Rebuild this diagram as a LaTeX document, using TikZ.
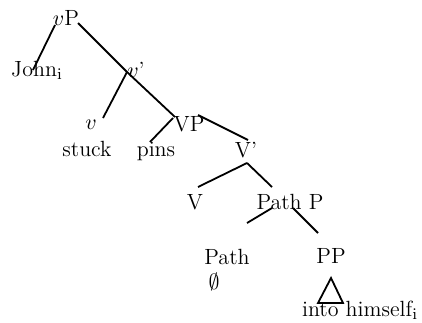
\documentclass[tikz,border=0pt]{standalone}
\usepackage{amssymb}
\tikzset{
  lbl/.style={inner sep=0pt, anchor=base, font=\fontsize{11}{13}\selectfont},
  edge/.style={line width=0.9pt},
}
\begin{document}
\begin{tikzpicture}[x=0.5pt,y=-0.5pt]
\useasboundingbox (0,0) rectangle (422,322);
% nodes
\node[lbl] (vP) at (66,25) {$v$P};
\node[lbl] (john) at (37,76) {John$_{\mathrm{i}}$};
\node[lbl] (vbar) at (136,77) {$v$'};
\node[lbl] (v) at (91,129) {$v$};
\node[lbl] (stuck) at (87,156) {stuck};
\node[lbl] (pins) at (156,156) {pins};
\node[lbl] (VP) at (189,131) {VP};
\node[lbl] (Vbar) at (246,157) {V'};
\node[lbl] (V) at (195,209) {V};
\node[lbl] (PathP) at (290,209) {Path P};
\node[lbl] (Path) at (227,264) {Path};
\node[lbl] (empty) at (214,289) {$\emptyset$};
\node[lbl] (PP) at (331,263) {PP};
\node[lbl] (into) at (360,316) {into himself$_{\mathrm{i}}$};
% connector end points
\coordinate (vP-l) at (55,25);
\coordinate (john-t) at (33,70);
\coordinate (vP-r) at (78,23);
\coordinate (vbar-t) at (127,72);
\coordinate (VP-t) at (175,117);
\coordinate (v-t) at (103,118);
\coordinate (VP-l) at (173,118);
\coordinate (pins-t) at (150,142);
\coordinate (VP-r) at (198,115);
\coordinate (Vbar-t) at (248,140);
\coordinate (Vbar-b) at (247,163);
\coordinate (V-t) at (198,187);
\coordinate (PathP-t) at (272,187);
\coordinate (PathP-l) at (272,208);
\coordinate (Path-t) at (247,223);
\coordinate (PathP-r) at (293,208);
\coordinate (PP-t) at (318,233);
\coordinate (tri-a) at (331,278);
\coordinate (tri-l) at (318,303);
\coordinate (tri-r) at (343,303);
% connectors
\draw[edge] (vP-l) -- (john-t);
\draw[edge] (vP-r) -- (vbar-t) -- (VP-t);
\draw[edge] (vbar-t) -- (v-t);
\draw[edge] (VP-l) -- (pins-t);
\draw[edge] (VP-r) -- (Vbar-t);
\draw[edge] (Vbar-b) -- (V-t);
\draw[edge] (Vbar-b) -- (PathP-t);
\draw[edge] (PathP-l) -- (Path-t);
\draw[edge] (PathP-r) -- (PP-t);
\draw[edge] (tri-a) -- (tri-l) -- (tri-r) -- cycle;
\end{tikzpicture}
\end{document}
